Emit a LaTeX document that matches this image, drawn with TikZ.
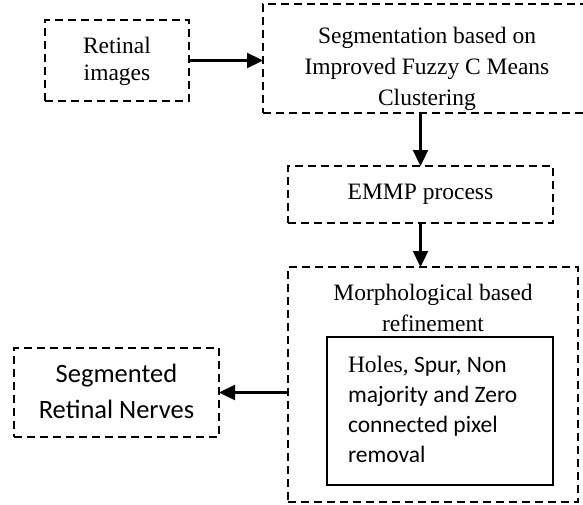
\documentclass[tikz,border=0pt]{standalone}
\usepackage{fontspec}
\setmainfont{Liberation Serif}
\newfontfamily\calibri{Carlito}
\newfontfamily\timesfont{Liberation Serif}
\usetikzlibrary{arrows.meta}
\tikzset{
  dbox/.style={draw, line width=2.7pt, dash pattern=on 8pt off 5pt, inner sep=0pt, outer sep=0pt},
  sbox/.style={draw, line width=1.7pt, inner sep=0pt, outer sep=0pt},
  txt/.style={inner sep=0pt, outer sep=0pt},
  arr/.style={line width=2.3pt, -{Triangle[length=16pt,width=15pt]}}
}
\newcommand{\tnr}[1]{\fontsize{23.5}{#1}\selectfont}
\begin{document}
\begin{tikzpicture}[x=1pt,y=-1pt]
\useasboundingbox (0,0) rectangle (583,504);
\clip (0,0) rectangle (583,504);
% boxes
\node[dbox, minimum width=144pt, minimum height=81pt] (ret) at (117,60.5) {};
\node[dbox, minimum width=329pt, minimum height=109pt] (seg) at (427.5,58.5) {};
\node[dbox, minimum width=265pt, minimum height=57pt] (emmp) at (420.5,194.5) {};
\node[dbox, minimum width=290pt, minimum height=235pt] (morph) at (433,384.5) {};
\node[sbox, minimum width=226pt, minimum height=148pt] (inner) at (440,411) {};
\node[dbox, minimum width=205pt, minimum height=89pt] (nerves) at (116.5,392.5) {};
% texts
\node[txt, anchor=base] (rettxt) at (117,53) {\tnr{27}\begin{tabular}[t]{@{}c@{}}Retinal\\images\end{tabular}};
\node[txt, anchor=base] (segtxt) at (427,43) {\tnr{31}\begin{tabular}[t]{@{}c@{}}Segmentation based on\\Improved Fuzzy C Means\\Clustering\end{tabular}};
\node[txt, anchor=base] (emmptxt) at (420.5,199) {\tnr{27}EMMP process};
\node[txt, anchor=base] (morphtxt) at (433,300) {\tnr{31}\begin{tabular}[t]{@{}c@{}}Morphological based\\refinement\end{tabular}};
\node[txt, anchor=base west] (innertxt) at (348,372) {\tnr{30.3}\calibri\begin{tabular}[t]{@{}l@{}}{\timesfont Holes,} Spur, Non\\majority and Zero\\connected pixel\\removal\end{tabular}};
\node[txt, anchor=base] (nervestxt) at (116.5,382) {\fontsize{26.5}{36}\selectfont\calibri\begin{tabular}[t]{@{}c@{}}Segmented\\Retinal Nerves\end{tabular}};
% connectors
\draw[arr] (ret.east) -- (ret.east -| seg.west);
\draw[arr] (emmp.north |- seg.south) -- (emmp.north);
\draw[arr] (emmp.south) -- (emmp.south |- morph.north);
\draw[arr] (morph.west |- nerves.east) -- (nerves.east);
\end{tikzpicture}
\end{document}
